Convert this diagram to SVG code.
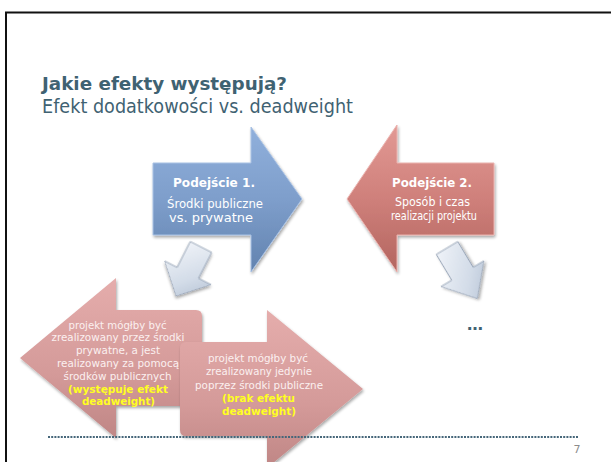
<svg xmlns="http://www.w3.org/2000/svg" width="611" height="462" viewBox="0 0 611 462">
  <defs>
    <linearGradient id="gBlue" x1="0" y1="0" x2="0" y2="1">
      <stop offset="0" stop-color="#90B0DC"/>
      <stop offset="0.5" stop-color="#7E9ECB"/>
      <stop offset="1" stop-color="#6283AF"/>
    </linearGradient>
    <linearGradient id="gRed" x1="0" y1="0" x2="0" y2="1">
      <stop offset="0" stop-color="#E29994"/>
      <stop offset="0.5" stop-color="#CF807B"/>
      <stop offset="1" stop-color="#B3655F"/>
    </linearGradient>
    <linearGradient id="gPink" x1="0" y1="0" x2="0" y2="1">
      <stop offset="0" stop-color="#E5ADAC"/>
      <stop offset="0.6" stop-color="#D49A99"/>
      <stop offset="1" stop-color="#BF8685"/>
    </linearGradient>
    <linearGradient id="gSmall" x1="0" y1="0" x2="1" y2="1">
      <stop offset="0" stop-color="#F6F8FC"/>
      <stop offset="0.6" stop-color="#D3DCE8"/>
      <stop offset="1" stop-color="#AEBCD0"/>
    </linearGradient>
    <filter id="shadow" x="-20%" y="-20%" width="140%" height="140%">
      <feGaussianBlur in="SourceAlpha" stdDeviation="1.5"/>
      <feOffset dx="1" dy="1.5" result="b"/>
      <feComponentTransfer><feFuncA type="linear" slope="0.35"/></feComponentTransfer>
      <feMerge><feMergeNode/><feMergeNode in="SourceGraphic"/></feMerge>
    </filter>
  </defs>
  <style>
    .title { font-family: "DejaVu Sans", Verdana, sans-serif; fill: #3F6272; }
    .lbl { font-family: "DejaVu Sans", Verdana, sans-serif; text-anchor: middle; }
    .w { fill: #FFFFFF; }
    .pk { fill: #FBF0F0; font-size: 11px; }
    .yl { fill: #FFFF22; font-size: 11px; font-weight: bold; }
    .hd { font-size: 12.5px; font-weight: bold; }
    .small { fill: url(#gSmall); stroke: #8E9CB0; stroke-width: 0.8; filter: url(#shadow); }
  </style>

  <rect x="0" y="0" width="611" height="462" fill="#FFFFFF"/>
  <!-- slide frame -->
  <g id="frame" fill="none" stroke="#111111" stroke-width="2">
    <line x1="5" y1="12.5" x2="611" y2="12.5"/>
    <line x1="6" y1="12" x2="6" y2="462"/>
  </g>

  <g id="node-title">
    <text class="title" x="42" y="90" font-size="18" font-weight="bold" textLength="245" lengthAdjust="spacingAndGlyphs">Jakie efekty występują?</text>
    <text class="title" x="42" y="112.5" font-size="19" textLength="311" lengthAdjust="spacingAndGlyphs">Efekt dodatkowości vs. deadweight</text>
  </g>

  <g id="node-podejscie1">
    <path d="M153,163 H251 V127 L302,199 L251,272 V235 H153 Z" fill="url(#gBlue)" stroke="#A9C2E4" stroke-width="1" filter="url(#shadow)"/>
    <text class="lbl w hd" x="214" y="187" textLength="82" lengthAdjust="spacingAndGlyphs">Podejście 1.</text>
    <text class="lbl w" x="215" y="208" font-size="12.5" textLength="96" lengthAdjust="spacingAndGlyphs">Środki publiczne</text>
    <text class="lbl w" x="211" y="221.5" font-size="12.5" textLength="84" lengthAdjust="spacingAndGlyphs">vs. prywatne</text>
  </g>

  <g id="node-podejscie2">
    <path d="M494,163 H397 V125 L347,199 L397,272 V235 H494 Z" fill="url(#gRed)" stroke="#EBB3AF" stroke-width="1" filter="url(#shadow)"/>
    <text class="lbl w hd" x="432" y="187" textLength="80" lengthAdjust="spacingAndGlyphs">Podejście 2.</text>
    <text class="lbl w" x="432.5" y="206" font-size="12" textLength="75" lengthAdjust="spacingAndGlyphs">Sposób i czas</text>
    <text class="lbl w" x="434" y="220" font-size="12" textLength="86" lengthAdjust="spacingAndGlyphs">realizacji projektu</text>
  </g>

  <g id="connectors">
    <path class="small" transform="translate(201,247) rotate(27)" d="M-12,0 H12 V29 H26 L0,55 L-26,29 H-12 Z"/>
    <path class="small" transform="translate(447,248) rotate(-31)" d="M-12.5,0 H12.5 V30 H25 L0,59 L-25,30 H-12.5 Z"/>
  </g>

  <g id="node-left">
    <path d="M20,358 L116,278 V310 H196 Q202,310 202,316 V400 Q202,406 196,406 H116 V438 Z" fill="url(#gPink)" filter="url(#shadow)"/>
  </g>

  <g id="node-right">
    <path d="M186,342 H267 V310 L363,389 L267,468 V436 H186 Q180,436 180,430 V348 Q180,342 186,342 Z" fill="url(#gPink)" filter="url(#shadow)"/>
  </g>

  <g id="node-left-text">
    <text class="lbl pk" x="117.5" y="328.5" textLength="98" lengthAdjust="spacingAndGlyphs">projekt mógłby być</text>
    <text class="lbl pk" x="118" y="341" textLength="133" lengthAdjust="spacingAndGlyphs">zrealizowany przez środki</text>
    <text class="lbl pk" x="118" y="353.5" textLength="84" lengthAdjust="spacingAndGlyphs">prywatne, a jest</text>
    <text class="lbl pk" x="118" y="366.5" textLength="122" lengthAdjust="spacingAndGlyphs">realizowany za pomocą</text>
    <text class="lbl pk" x="117.5" y="379.5" textLength="108" lengthAdjust="spacingAndGlyphs">środków publicznych</text>
    <text class="lbl yl" x="118" y="392.5" textLength="100" lengthAdjust="spacingAndGlyphs">(występuje efekt</text>
    <text class="lbl yl" x="118.5" y="405" textLength="73" lengthAdjust="spacingAndGlyphs">deadweight)</text>
  </g>

  <g id="node-right-text">
    <text class="lbl pk" x="258" y="361.5" textLength="100" lengthAdjust="spacingAndGlyphs">projekt mógłby być</text>
    <text class="lbl pk" x="259" y="375" textLength="106" lengthAdjust="spacingAndGlyphs">zrealizowany jedynie</text>
    <text class="lbl pk" x="259" y="388.5" textLength="128" lengthAdjust="spacingAndGlyphs">poprzez środki publiczne</text>
    <text class="lbl yl" x="258.5" y="401.5" textLength="73" lengthAdjust="spacingAndGlyphs">(brak efektu</text>
    <text class="lbl yl" x="259" y="415" textLength="74" lengthAdjust="spacingAndGlyphs">deadweight)</text>
  </g>

  <g id="node-ellipsis">
    <text class="lbl" x="475" y="330" font-size="15" font-weight="bold" fill="#3F6272" textLength="16" lengthAdjust="spacingAndGlyphs">…</text>
  </g>

  <g id="footer">
    <line x1="48" y1="437" x2="578" y2="437" stroke="#46677A" stroke-width="2" stroke-dasharray="2 1.2"/>
    <text class="lbl" x="577" y="453" font-size="11" fill="#8C8C8C">7</text>
  </g>
</svg>
